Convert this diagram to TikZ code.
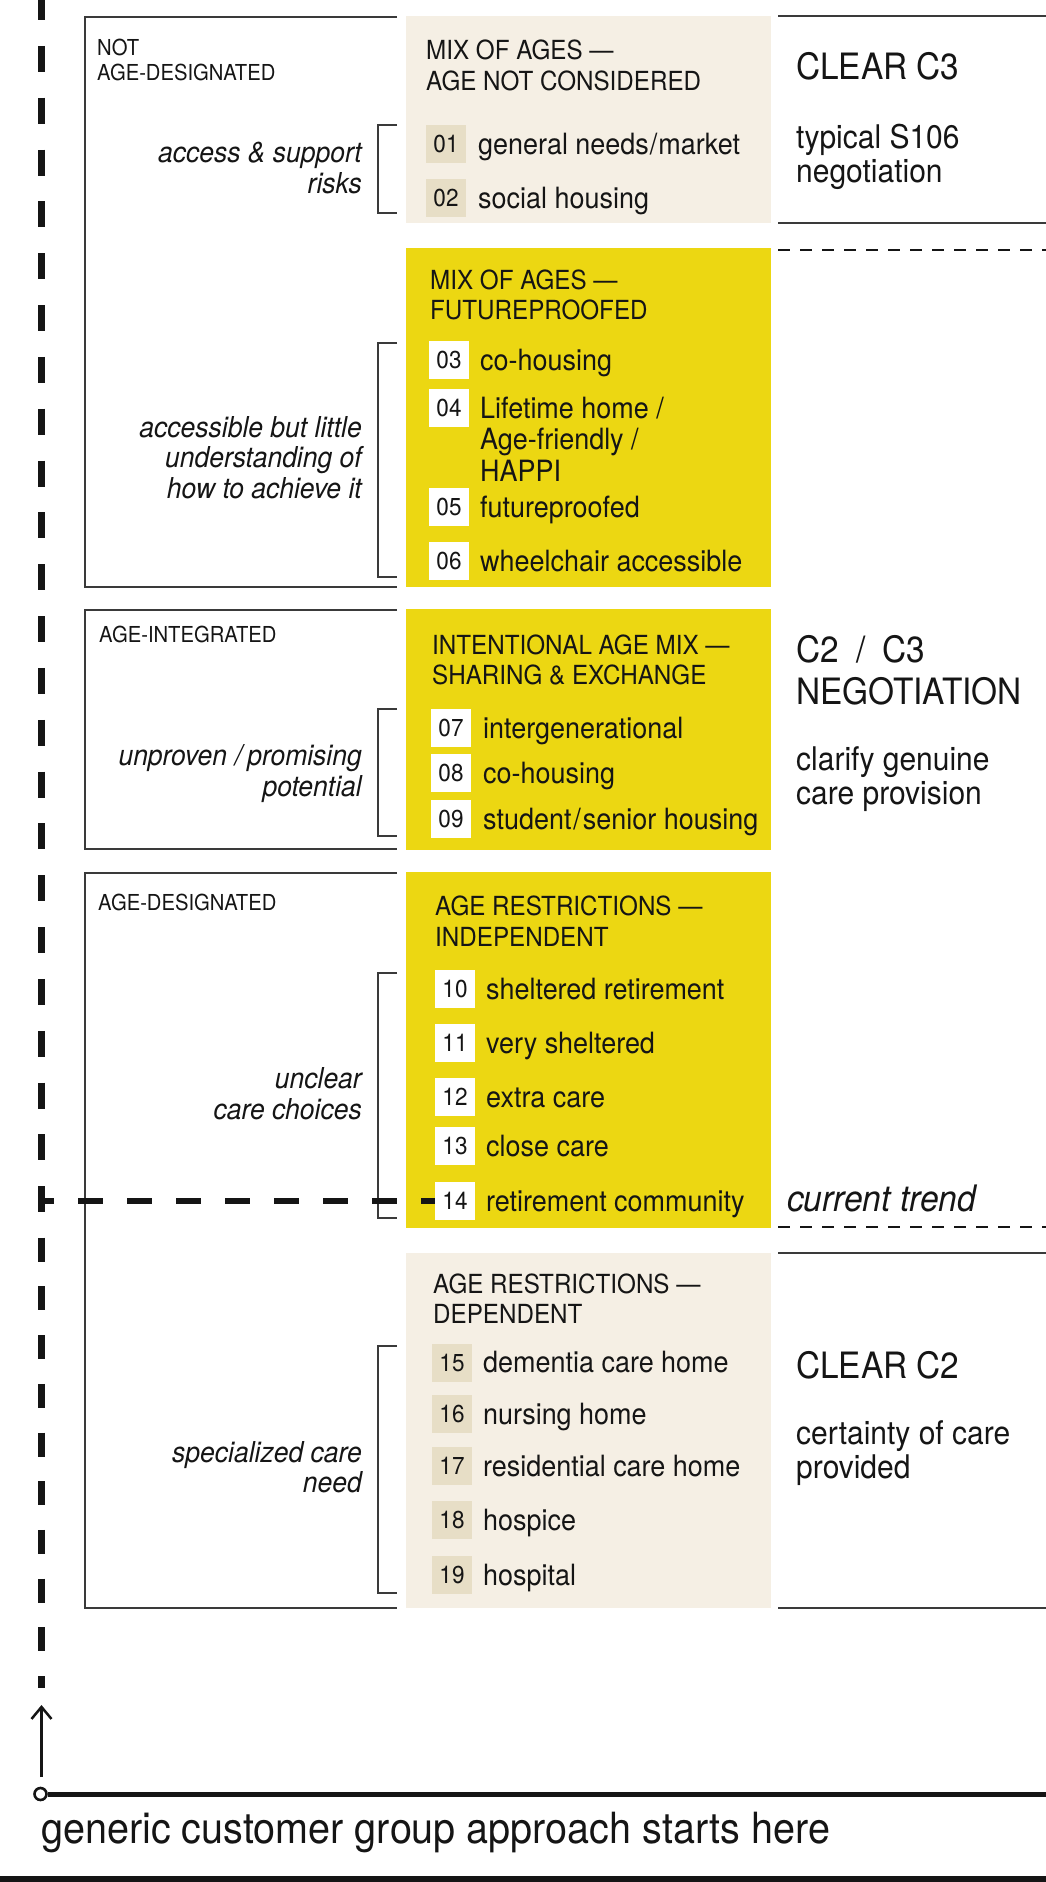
\documentclass[tikz,border=0pt]{standalone}
\usepackage{fontspec}
\setmainfont{TeX Gyre Heros}[FakeStretch=0.92]
\usetikzlibrary{arrows.meta}
\definecolor{ink}{HTML}{151515}
\definecolor{ylw}{HTML}{ECD712}
\definecolor{beige}{HTML}{F5EFE4}
\definecolor{numbeige}{HTML}{E7DEC6}
\definecolor{frame}{HTML}{3A3A3A}
\tikzset{
  boxline/.style={draw=frame, line width=1.6pt},
  brk/.style={draw=frame, line width=1.6pt},
  rline/.style={draw=frame, line width=2pt},
  rdash/.style={draw=ink, line width=2.5pt, dash pattern=on 12pt off 10pt},
  panel/.style={draw=none, minimum width=365pt, inner sep=0pt, anchor=north west},
  ypanel/.style={panel, fill=ylw},
  bpanel/.style={panel, fill=beige},
  ttl/.style={font=\fontsize{26.3}{30.5}\selectfont, anchor=base west, inner sep=0pt, align=left, text=ink},
  itm/.style={font=\fontsize{29.3}{31.5}\selectfont, anchor=base west, inner sep=0pt, align=left, text=ink},
  num/.style={font=\fontsize{24.5}{24.5}\selectfont, minimum width=40pt, minimum height=38pt, inner sep=0pt, text=ink},
  numw/.style={num, fill=white},
  numb/.style={num, fill=numbeige},
  grp/.style={font=\fontsize{22}{25}\selectfont, anchor=base west, inner sep=0pt, align=left, text=ink},
  ital/.style={font=\fontsize{28.8}{30.7}\selectfont\itshape, anchor=base east, inner sep=0pt, align=right, text=ink},
  rhead/.style={font=\fontsize{36.3}{42}\selectfont, anchor=base west, inner sep=0pt, align=left, text=ink},
  rbody/.style={font=\fontsize{32.6}{34}\selectfont, anchor=base west, inner sep=0pt, align=left, text=ink},
}
\begin{document}
\begin{tikzpicture}[x=1pt,y=-1pt]
\useasboundingbox (0,0) rectangle (1046,1882);

% left group frames (open on the right)
\draw[boxline] (397,17) -| (85,587) -- (397,587);
\draw[boxline] (397,610) -| (85,849) -- (397,849);
\draw[boxline] (397,873) -| (85,1608) -- (397,1608);

% brackets
\draw[brk] (397,125) -| (378,213) -- (397,213);
\draw[brk] (397,343) -| (378,577) -- (397,577);
\draw[brk] (397,709) -| (378,836) -- (397,836);
\draw[brk] (397,973) -| (378,1218) -- (397,1218);
\draw[brk] (397,1346) -| (378,1593) -- (397,1593);

% group labels (anchor = baseline of last line)
\node[grp] (g1) at (97,80) {NOT\\AGE-DESIGNATED};
\node[grp] (g2) at (99,642) {AGE-INTEGRATED};
\node[grp] (g3) at (98,910) {AGE-DESIGNATED};

% italic labels
\node[ital] (i1) at (362,193) {access \& support\\risks};
\node[ital] (i2) at (362,498.4) {accessible but little\\understanding of\\how to achieve it};
\node[ital] (i3) at (362,796.5) {unproven\kern8pt/\kern5pt promising\\potential};
\node[ital] (i4) at (362,1119) {unclear\\care choices};
\node[ital] (i5) at (362,1492.7) {specialized care\\need};

% central panels
\node[bpanel, minimum height=207pt] (c1) at (406,16) {};
\node[ypanel, minimum height=339pt] (c2) at (406,248) {};
\node[ypanel, minimum height=241pt] (c3) at (406,609) {};
\node[ypanel, minimum height=356pt] (c4) at (406,872) {};
\node[bpanel, minimum height=355pt] (c5) at (406,1253) {};

% titles
\node[ttl] (t1) at (426,90) {MIX OF AGES —\\AGE NOT CONSIDERED};
\node[ttl] (t2) at (430,319.5) {MIX OF AGES —\\FUTUREPROOFED};
\node[ttl] (t3) at (432,684.5) {INTENTIONAL AGE MIX —\\SHARING \& EXCHANGE};
\node[ttl] (t4) at (435,946) {AGE RESTRICTIONS —\\INDEPENDENT};
\node[ttl] (t5) at (433,1323.5) {AGE RESTRICTIONS —\\DEPENDENT};

% current trend line (runs under number box 14)
\coordinate (axtrend) at (41.5,1201);
\coordinate (n14w) at (435,1201);
\draw[ink, line width=6.5pt, dash pattern=on 25pt off 24pt, dash phase=12.5pt] (axtrend) -- (n14w);

% items C1
\node[numb] (n01) at (446,144) {01};
\node[itm] (x01) at (478,154) {general needs\kern1pt/\kern1pt market};
\node[numb] (n02) at (446,198) {02};
\node[itm] (x02) at (478,208) {social housing};
% items C2
\node[numw] (n03) at (449,360) {03};
\node[itm] (x03) at (480,370) {co-housing};
\node[numw] (n04) at (449,408) {04};
\node[itm] (x04) at (480,481) {Lifetime home /\\Age-friendly /\\HAPPI};
\node[numw] (n05) at (449,507) {05};
\node[itm] (x05) at (480,517) {futureproofed};
\node[numw] (n06) at (449,561) {06};
\node[itm] (x06) at (480,571) {wheelchair accessible};
% items C3
\node[numw] (n07) at (451,728) {07};
\node[itm] (x07) at (483,738) {intergenerational};
\node[numw] (n08) at (451,773) {08};
\node[itm] (x08) at (483,783) {co-housing};
\node[numw] (n09) at (451,819) {09};
\node[itm] (x09) at (483,829) {student\kern2pt/\kern2pt senior housing};
% items C4
\node[numw] (n10) at (455,989) {10};
\node[itm] (x10) at (486,999) {sheltered retirement};
\node[numw] (n11) at (455,1043) {11};
\node[itm] (x11) at (486,1053) {very sheltered};
\node[numw] (n12) at (455,1097) {12};
\node[itm] (x12) at (486,1107) {extra care};
\node[numw] (n13) at (455,1146) {13};
\node[itm] (x13) at (486,1156) {close care};
\node[numw] (n14) at (455,1201) {14};
\node[itm] (x14) at (486,1211) {retirement community};
% items C5
\node[numb] (n15) at (452,1362.5) {15};
\node[itm] (x15) at (483,1372.5) {dementia care home};
\node[numb] (n16) at (452,1414) {16};
\node[itm] (x16) at (483,1424) {nursing home};
\node[numb] (n17) at (452,1466) {17};
\node[itm] (x17) at (483,1476) {residential care home};
\node[numb] (n18) at (452,1520) {18};
\node[itm] (x18) at (483,1530) {hospice};
\node[numb] (n19) at (452,1575) {19};
\node[itm] (x19) at (483,1585) {hospital};

% right column
\draw[rline] (778,16) -- (1046,16);
\draw[rline] (778,223) -- (1046,223);
\draw[rdash] (778,250) -- (1046,250);
\draw[rdash] (778,1227) -- (1046,1227);
\draw[rline] (778,1253) -- (1046,1253);
\draw[rline] (778,1608) -- (1046,1608);

\node[rhead] (r1) at (796,79.5) {CLEAR C3};
\node[rbody] (r2) at (796,182.5) {typical S106\\negotiation};
\node[rhead] (r3) at (796,704.5) {C2\ \kern8pt/\kern8pt\ C3\\NEGOTIATION};
\node[rbody] (r4) at (796,804.5) {clarify genuine\\care provision};
\node[rhead] (r5) at (796,1378) {CLEAR C2};
\node[rbody] (r6) at (796,1478) {certainty of care\\provided};
\node[font=\fontsize{36.5}{40}\selectfont\itshape, anchor=base west, inner sep=0pt, text=ink] (r7) at (787,1211) {current trend};

% vertical axis
\coordinate (axtop) at (41.5,0);
\coordinate (axmid) at (41.5,1213);
\coordinate (axlow) at (41.5,1688);
\draw[ink, line width=6.5pt, dash pattern=on 26pt off 25.84pt, dash phase=6pt] (axtop) -- (axmid);
\draw[ink, line width=6.5pt, dash pattern=on 24pt off 24.7pt, dash phase=24pt] (axmid) -- (axlow);

% origin, arrow and baseline
\node[circle, draw=ink, fill=white, line width=2.6pt, minimum size=12pt, inner sep=0pt] (origin) at (40.5,1794) {};
\coordinate (arrtop) at (41.5,1705);
\coordinate (arrbot) at (41.5,1777);
\draw[ink, line width=2.5pt, -{Straight Barb[length=12pt, width=20pt, line width=2.5pt]}] (arrbot) -- (arrtop);
\coordinate (baseend) at (1046,1794);
\draw[ink, line width=5pt] (origin.east) -- (baseend);
\node[font=\fontsize{43}{48}\selectfont, anchor=base west, inner sep=0pt, text=ink] (btext) at (41,1843) {generic customer group approach starts here};
\coordinate (barl) at (0,1879);
\coordinate (barr) at (1046,1879);
\draw[ink, line width=6pt] (barl) -- (barr);
\end{tikzpicture}
\end{document}
